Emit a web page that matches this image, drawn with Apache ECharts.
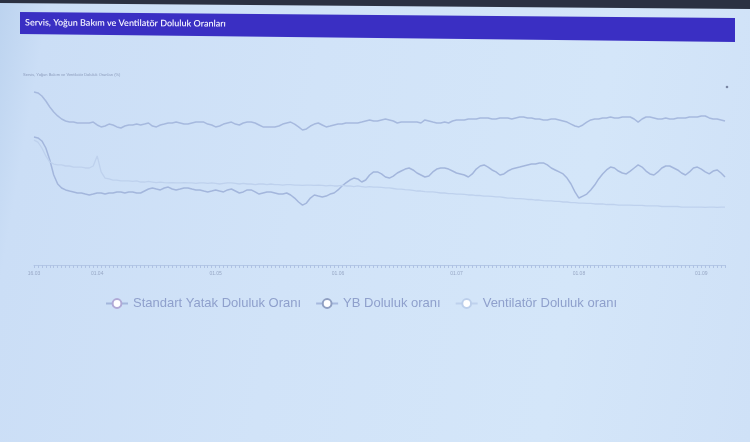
<!DOCTYPE html>
<html>
<head>
<meta charset="utf-8">
<script src="https://cdn.jsdelivr.net/npm/echarts@6/dist/echarts.min.js"></script>
<style>
html,body{margin:0;padding:0;}
#c{width:750px;height:442px;background:linear-gradient(100deg,#bcd3ef 0%,#cbdef6 6%,#d1e3f8 40%,#d4e6f9 75%,#cfe1f7 100%);}
</style>
</head>
<body>
<div id="c"></div>
<script>
const titleText = "Servis, Yoğun Bakım ve Ventilatör Doluluk Oranları";
const subtitleText = "Servis, Yoğun Bakım ve Ventilatör Doluluk Oranları (%)";
const seriesNames = ["Standart Yatak Doluluk Oranı", "YB Doluluk oranı", "Ventilatör Doluluk oranı"];
const startDate = "2020-03-16";
const dayCount = 176;

const standartYatak = [
71.1,70.6,68.9,65.0,58.3,50.0,45.0,42.8,41.7,41.1,40.6,40.0,40.0,39.4,38.9,39.4,40.0,40.0,39.4,40.0,
40.0,40.6,40.6,40.0,40.6,40.6,40.0,40.0,41.1,42.2,42.8,42.2,41.7,42.8,43.3,42.2,41.7,42.2,42.8,42.8,
42.2,41.7,41.7,41.1,40.6,41.1,41.7,41.1,40.6,41.7,42.2,41.1,40.0,40.6,41.7,41.7,40.6,39.4,40.0,40.6,
40.6,40.0,39.4,39.4,40.0,38.9,37.2,35.0,33.3,34.4,37.2,38.9,38.3,37.8,38.3,39.4,40.0,41.7,43.9,45.6,
47.2,48.3,47.8,46.1,47.2,50.0,51.7,51.7,50.6,48.9,48.3,49.4,51.1,52.2,53.3,53.9,52.8,51.1,50.0,48.9,
49.4,51.7,53.3,53.9,53.9,53.3,52.2,51.1,50.6,50.0,48.9,50.6,53.3,55.0,55.6,54.4,52.8,51.7,50.0,50.6,
52.2,53.3,53.9,54.4,55.0,55.6,56.1,56.1,56.7,56.7,55.6,53.9,52.8,51.7,50.6,48.3,45.0,40.6,37.2,38.3,
39.4,41.7,44.4,47.8,50.6,52.8,54.4,53.9,52.2,51.1,50.6,52.2,53.9,55.6,54.4,52.2,50.6,50.0,51.7,53.9,
55.0,55.0,53.9,52.8,51.1,50.0,51.7,53.9,54.4,53.3,51.7,50.6,52.2,52.8,51.1,48.9
];

const ybDoluluk = [
96.1,95.6,93.9,91.1,87.8,85.0,82.8,81.1,80.0,79.4,79.4,78.9,78.9,78.9,78.9,79.4,77.8,76.7,77.2,78.3,
77.8,76.7,76.1,77.2,77.8,77.8,78.3,77.8,78.3,78.9,77.2,76.7,77.8,78.3,78.9,78.9,79.4,78.9,78.3,78.3,
78.9,79.4,79.4,79.4,78.3,77.8,76.7,77.2,78.3,78.9,79.4,78.3,77.8,78.9,79.4,79.4,78.9,77.8,76.7,76.7,
76.7,76.7,77.2,78.3,78.9,79.4,78.3,76.7,75.0,75.6,77.2,78.3,78.9,77.8,76.7,77.2,77.8,78.3,78.3,78.9,
78.9,78.9,78.9,79.4,80.0,80.6,80.0,80.0,80.6,81.1,80.6,80.0,78.9,79.4,79.4,79.4,79.4,79.4,78.9,80.6,
80.0,79.4,78.9,78.9,79.4,78.9,80.0,80.6,80.6,80.6,81.1,81.1,81.1,81.7,81.7,81.7,81.1,81.1,81.7,81.7,
81.7,81.1,81.7,82.2,82.2,81.7,81.7,81.1,81.1,80.6,80.6,81.1,81.1,80.6,80.0,79.4,78.3,77.2,76.7,77.8,
79.4,80.6,81.1,81.1,81.7,81.7,82.2,81.7,81.7,82.2,82.2,82.2,81.1,79.4,81.1,82.2,82.2,81.7,81.1,81.1,
81.7,81.1,81.1,81.7,81.7,81.7,82.2,82.2,82.2,82.8,82.8,81.7,81.1,81.1,80.6,80.0
];

const ventilator = [
69.4,68.3,65.0,60.6,57.2,56.1,55.6,55.6,55.0,55.0,54.4,54.4,54.4,53.9,53.9,55.0,60.6,51.7,48.3,47.8,47.2,47.2,46.7,46.7,46.7,
46.4,46.7,46.1,46.1,46.4,46.1,45.8,46.1,45.8,45.6,45.8,45.6,45.6,45.8,45.6,45.6,45.3,45.6,45.6,45.3,45.6,45.3,45.0,45.3,45.6,
45.6,45.3,45.0,45.3,45.0,45.0,44.7,45.0,45.0,44.7,45.0,44.7,44.7,44.4,44.7,44.7,44.4,44.4,44.2,44.4,44.4,44.2,44.4,44.2,43.9,
44.2,43.9,43.9,44.2,43.9,43.9,43.6,43.9,43.6,43.3,43.6,43.3,43.3,43.1,42.8,42.8,42.5,42.2,42.2,41.9,41.7,41.4,41.1,41.1,40.8,
40.6,40.6,40.3,40.0,40.0,39.7,39.7,39.4,39.4,39.2,38.9,38.9,38.6,38.6,38.3,38.3,38.1,37.8,37.8,37.5,37.2,37.2,36.9,36.9,36.7,
36.4,36.4,36.1,36.1,35.8,35.6,35.6,35.3,35.3,35.0,35.0,34.7,34.7,34.4,34.4,34.2,34.2,33.9,33.9,33.9,33.6,33.6,33.6,33.3,33.3,
33.3,33.3,33.1,33.1,33.1,32.8,32.8,32.8,32.8,32.5,32.5,32.5,32.5,32.5,32.2,32.2,32.2,32.2,32.2,32.2,32.0,32.2,32.2,32.0,32.2,32.2
];

// date categories
const categories = [];
(function(){
  const d0 = new Date(startDate + "T00:00:00Z");
  for (let i = 0; i < dayCount; i++) {
    const d = new Date(d0.getTime() + i * 86400000);
    const dd = String(d.getUTCDate()).padStart(2, "0");
    const mm = String(d.getUTCMonth() + 1).padStart(2, "0");
    categories.push(dd + "." + mm + "." + d.getUTCFullYear());
  }
})();

const chart = echarts.init(document.getElementById('c'), null, {renderer: 'canvas'});
const option = {
  backgroundColor: 'transparent',
  animation: false,
  graphic: [
    { type: 'polygon', shape: { points: [[0,0],[750,0],[750,9],[0,3]] }, style: { fill: '#2b3142' } },
    { type: 'polygon', shape: { points: [[20,12],[735,18],[735,42],[20,34]] }, style: { fill: '#3a2fc3' } },
    { type: 'text', left: 25, top: 18, rotation: -0.006, style: { text: titleText, fill: '#f4f4ff', font: '600 9px Lato, "Open Sans", sans-serif' } },
    { type: 'text', left: 23, top: 73, style: { text: subtitleText, fill: '#8c9cbc', font: '4px "Liberation Sans", sans-serif' } },
    { type: 'circle', shape: { cx: 727, cy: 87, r: 1.3 }, style: { fill: '#7a86a3' } }
  ],
  legend: {
    left: 100, top: 292,
    itemWidth: 22, itemHeight: 11, itemGap: 14,
    textStyle: { fontSize: 13, color: '#8fa0cc', fontFamily: '"Liberation Sans", Arial, sans-serif' },
    data: seriesNames
  },
  grid: { left: 34, right: 25, top: 85, bottom: 177 },
  xAxis: {
    type: 'category',
    boundaryGap: false,
    data: categories,
    axisLine: { lineStyle: { color: '#b3c7e6', width: 1 } },
    axisTick: { show: true, interval: 0, length: 3, lineStyle: { color: '#afc2e3' } },
    axisLabel: {
      interval: function (idx, val) { return idx === 0 || val.slice(0, 2) === '01'; },
      fontSize: 5, color: '#98a8c6', margin: 6,
      formatter: function (val) { return val.slice(0, 5); }
    },
    splitLine: { show: false }
  },
  yAxis: {
    type: 'value', min: 0, max: 100,
    show: true,
    axisLine: { show: false }, axisTick: { show: false }, axisLabel: { show: false },
    splitLine: { show: false }
  },
  series: [
    { name: seriesNames[0], type: 'line', data: standartYatak, symbol: 'emptyCircle', symbolSize: 8, showSymbol: false,
      color: '#b0a9d6', lineStyle: { width: 1.5, color: '#a3b6dc' } },
    { name: seriesNames[1], type: 'line', data: ybDoluluk, symbol: 'emptyCircle', symbolSize: 8, showSymbol: false,
      color: '#8f9fc2', lineStyle: { width: 1.5, color: '#a6b9de' } },
    { name: seriesNames[2], type: 'line', data: ventilator, symbol: 'emptyCircle', symbolSize: 8, showSymbol: false,
      color: '#bccfeb', lineStyle: { width: 1.3, color: '#bed1ed' } }
  ]
};
chart.setOption(option);
</script>
</body>
</html>
